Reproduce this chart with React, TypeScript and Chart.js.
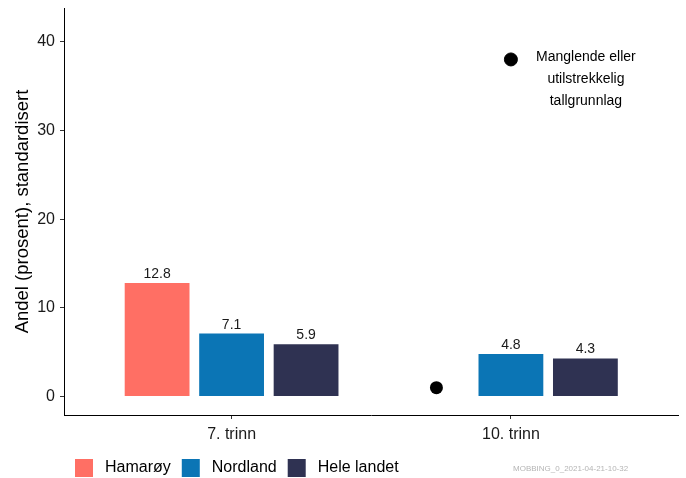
import React, { useEffect, useRef } from 'react';
import { Chart, registerables } from 'chart.js';

Chart.register(...registerables);

const categories = ['7. trinn', '10. trinn'];
const categoryPositions = [1, 2];
const seriesNames = ['Hamarøy', 'Nordland', 'Hele landet'];
const hamaroy: (number | null)[] = [12.8, null];
const nordland: (number | null)[] = [7.1, 4.8];
const heleLandet: (number | null)[] = [5.9, 4.3];
const seriesColors = ['#FF6F64', '#0B75B5', '#2F3252'];
const yTicks = [0, 10, 20, 30, 40];
const yMin = -2.08;
const yMax = 43.8;
const xMin = 0.4;
const xMax = 2.6;
const missingMarkerValue = 1;
const notePoint = { x: 2, y: 38 };
const noteLines = ['Manglende eller', 'utilstrekkelig', 'tallgrunnlag'];
const yTitle = 'Andel (prosent), standardisert';
const watermark = 'MOBBING_0_2021-04-21-10-32';

const FONT = '"Liberation Sans", Arial, sans-serif';

const overlayPlugin = {
  id: 'overlay',
  afterDatasetsDraw(chart: any) {
    const ctx = chart.ctx;
    const xs = chart.scales.x;
    const ys = chart.scales.y;
    ctx.save();
    // value labels
    ctx.fillStyle = '#1a1a1a';
    ctx.font = `14px ${FONT}`;
    ctx.textAlign = 'center';
    ctx.textBaseline = 'alphabetic';
    [0, 1, 2].forEach((di) => {
      const meta = chart.getDatasetMeta(di);
      const vals = chart.data.datasets[di].data;
      meta.data.forEach((el: any, j: number) => {
        const v = vals[j].y;
        if (v === null || v === undefined) return;
        ctx.fillText(v.toFixed(1), el.x, el.y - 5);
      });
    });
    // missing markers
    const mN = chart.getDatasetMeta(1);
    const mL = chart.getDatasetMeta(2);
    hamaroy.forEach((v, j) => {
      if (v !== null) return;
      const x = 2 * mN.data[j].x - mL.data[j].x;
      const y = ys.getPixelForValue(missingMarkerValue);
      ctx.beginPath();
      ctx.fillStyle = '#000';
      ctx.arc(x, y, 6.5, 0, Math.PI * 2);
      ctx.fill();
    });
    // note text
    const nx = xs.getPixelForValue(notePoint.x) + 75;
    const ny = ys.getPixelForValue(notePoint.y) - 2;
    ctx.fillStyle = '#000';
    ctx.font = `14px ${FONT}`;
    ctx.textAlign = 'center';
    ctx.textBaseline = 'middle';
    noteLines.forEach((t, i) => ctx.fillText(t, nx, ny + i * 22));
    ctx.restore();
  },
  afterDraw(chart: any) {
    const ctx = chart.ctx;
    ctx.save();
    // legend
    let x = 75;
    const cy = 468;
    ctx.font = `16px ${FONT}`;
    ctx.textBaseline = 'middle';
    ctx.textAlign = 'left';
    seriesNames.forEach((name, i) => {
      ctx.fillStyle = seriesColors[i];
      ctx.fillRect(x, cy - 9, 18, 18);
      ctx.fillStyle = '#000';
      ctx.fillText(name, x + 30, cy);
      x += 30 + ctx.measureText(name).width + 11;
    });
    // watermark
    ctx.font = `8px ${FONT}`;
    ctx.fillStyle = '#b5b5b5';
    ctx.fillText(watermark, 513, 469);
    ctx.restore();
  },
};

export default function App() {
  const ref = useRef<HTMLCanvasElement>(null);
  useEffect(() => {
    document.body.style.margin = '0';
    const series = [hamaroy, nordland, heleLandet];
    const chart = new Chart(ref.current as HTMLCanvasElement, {
      type: 'bar',
      data: {
        datasets: [
          ...series.map((s, i) => ({
            type: 'bar' as const,
            label: seriesNames[i],
            data: s.map((v, j) => ({ x: categoryPositions[j], y: v })) as any,
            backgroundColor: seriesColors[i],
            categoryPercentage: 0.8,
            barPercentage: 0.87,
          })),
          {
            type: 'scatter' as const,
            label: 'note',
            data: [notePoint] as any,
            backgroundColor: '#000',
            borderColor: '#000',
            pointRadius: 6.5,
            pointHoverRadius: 6.5,
          },
        ],
      },
      options: {
        responsive: false,
        animation: false,
        layout: { padding: { top: 8, right: 6, left: 0, bottom: 0 } },
        plugins: { legend: { display: false }, tooltip: { enabled: false } },
        scales: {
          x: {
            type: 'linear',
            min: xMin,
            max: xMax,
            offset: false,
            afterBuildTicks: (s: any) => {
              s.ticks = categoryPositions.map((v) => ({ value: v }));
            },
            afterFit: (s: any) => {
              s.height = 63;
              s.paddingLeft = 0;
              s.paddingRight = 0;
            },
            ticks: {
              callback: (v: any) => {
                const i = categoryPositions.indexOf(Number(v));
                return i >= 0 ? categories[i] : '';
              },
              font: { size: 16, family: FONT },
              color: '#1a1a1a',
              padding: 6,
              maxRotation: 0,
              autoSkip: false,
            },
            grid: { drawOnChartArea: false, offset: false, tickLength: 4, color: '#333' },
            border: { color: '#000', width: 1 },
          },
          y: {
            type: 'linear',
            min: yMin,
            max: yMax,
            afterBuildTicks: (s: any) => {
              s.ticks = yTicks.map((v) => ({ value: v }));
            },
            afterFit: (s: any) => {
              s.width = 64;
              s.paddingTop = 0;
              s.paddingBottom = 0;
            },
            ticks: {
              font: { size: 16, family: FONT },
              color: '#1a1a1a',
              padding: 5,
            },
            grid: { drawOnChartArea: false, tickLength: 4, color: '#333' },
            border: { color: '#000', width: 1 },
            title: {
              display: true,
              text: yTitle,
              font: { size: 18.5, family: FONT },
              color: '#000',
              padding: { top: 12, bottom: 0 },
            },
          },
        },
      },
      plugins: [overlayPlugin],
    });
    return () => chart.destroy();
  }, []);
  return <canvas ref={ref} width={686} height={478} style={{ display: 'block' }} />;
}
